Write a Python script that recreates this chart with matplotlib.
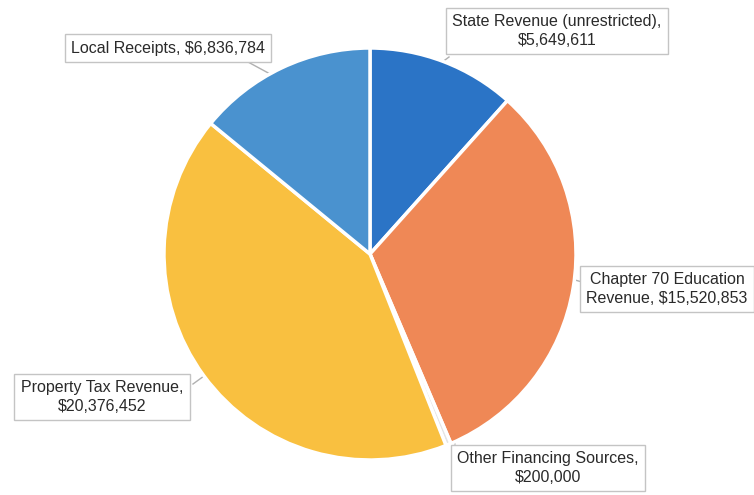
import matplotlib
matplotlib.use("Agg")
import matplotlib.pyplot as plt

plt.rcParams['font.family'] = ['Liberation Sans', 'DejaVu Sans']

categories = ["State Revenue (unrestricted)", "Chapter 70 Education Revenue",
              "Other Financing Sources", "Property Tax Revenue", "Local Receipts"]
values = [5649611, 15520853, 200000, 20376452, 6836784]
labels = ["State Revenue (unrestricted),\n$5,649,611",
          "Chapter 70 Education\nRevenue, $15,520,853",
          "Other Financing Sources,\n$200,000",
          "Property Tax Revenue,\n$20,376,452",
          "Local Receipts, $6,836,784"]
colors = ["#2b74c6", "#ef8856", "#e4e4e4", "#f9c040", "#4a92cf"]

W, H = 754, 495
fig = plt.figure(figsize=(W / 100, H / 100), dpi=100)
ax = fig.add_axes([0, 0, 1, 1])


def px(x, y):
    return (x, H - y)


ax.pie(values, colors=colors, startangle=90, counterclock=False,
       center=px(370, 254), radius=206, frame=True,
       wedgeprops=dict(edgecolor="white", linewidth=2.5))
ax.set_xlim(0, W)
ax.set_ylim(0, H)
ax.set_aspect("equal")
ax.axis("off")

# label boxes: text centre and leader line (box edge -> slice)
boxes = [
    ((557, 31), [(449, 57), (441, 63)]),
    ((667, 289), [(582, 282), (575, 280)]),
    ((548, 468), [(455, 444), (443, 437)]),
    ((102, 397), [(193, 384), (204, 376)]),
    ((168, 48), [(248, 62), (272, 75)]),
]
for lab, (tc, line) in zip(labels, boxes):
    ax.text(*px(*tc), lab, ha="center", va="center", fontsize=11.5,
            color="#2a2a2a", linespacing=1.3,
            bbox=dict(boxstyle="square,pad=0.4", facecolor="white",
                      edgecolor="#c4c4c4", linewidth=1.0))
    xs = [p[0] for p in line]
    ys = [H - p[1] for p in line]
    ax.plot(xs, ys, color="#b0b0b0", linewidth=1.0, zorder=0)

fig.savefig("out.png", dpi=100)
